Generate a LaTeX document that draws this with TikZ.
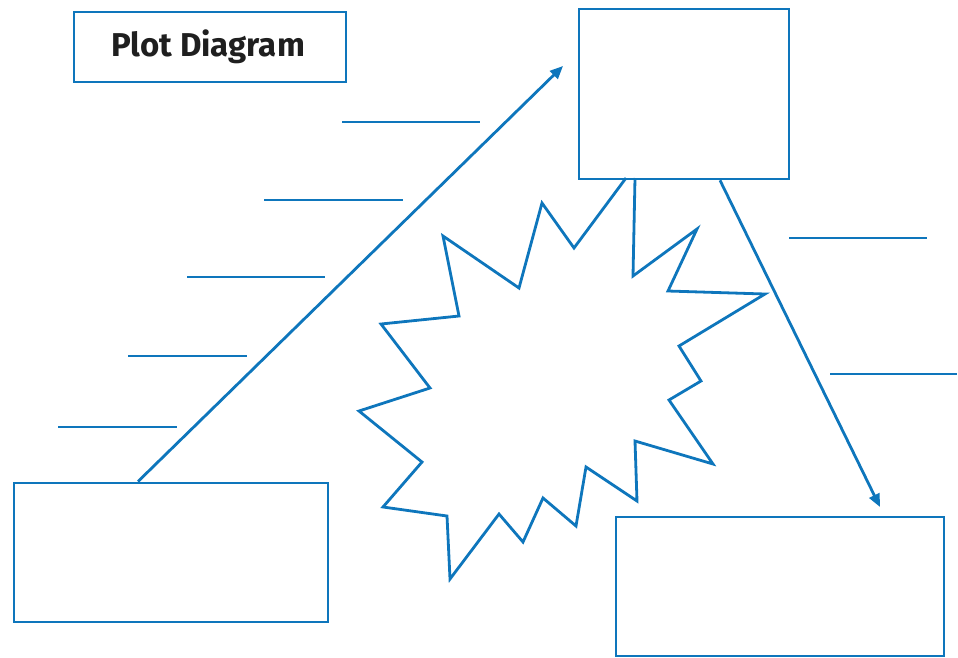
\documentclass[tikz,border=0pt]{standalone}
\usepackage{fontspec}
\newfontfamily\titlefont{Fira Sans}
\usetikzlibrary{arrows.meta}
\definecolor{plotblue}{HTML}{0E76BC}
\begin{document}
\begin{tikzpicture}[x=1pt,y=-1pt,
  line/.style={draw=plotblue,line width=2.8pt},
  box/.style={draw=plotblue,line width=2.8pt,rectangle,anchor=north west,inner sep=0pt},
  blank/.style={draw=plotblue,line width=2.8pt},
  arr/.style={draw=plotblue,line width=2.8pt,-{Triangle[length=13pt,width=11pt]}}]
\useasboundingbox (0,0) rectangle (958,657);
% boxes
\node[box,minimum width=272pt,minimum height=70pt] (title) at (72.5,10.5) {};
\node[font=\titlefont\bfseries\fontsize{33}{38}\selectfont,text=black!88] (titletext) at (208,47) {Plot Diagram};
\node[box,minimum width=210pt,minimum height=170pt] (climax) at (577.5,7.5) {};
\node[box,minimum width=314pt,minimum height=139pt] (expo) at (12.5,481.5) {};
\node[box,minimum width=328pt,minimum height=139pt] (resol) at (614.5,515.5) {};
% free arrow ends
\coordinate (risetip) at (563,66);
\coordinate (falltip) at (880,507);
% arrows
\draw[arr] ([xshift=125.5pt]expo.north west) -- (risetip);
\draw[arr] ([xshift=142.5pt]climax.south west) -- (falltip);
% writing lines
\draw[blank] (342,122) -- (480,122);
\draw[blank] (264,200) -- (403,200);
\draw[blank] (187,277) -- (325,277);
\draw[blank] (128,356) -- (247,356);
\draw[blank] (58,427) -- (177,427);
\draw[blank] (789,238) -- (927,238);
\draw[blank] (830,374) -- (957,374);
% starburst
\draw[line,line join=miter] (626,178) -- (574,248) -- (542,203) -- (519,288) -- (443,236)
  -- (459,316) -- (381,324) -- (430,388) -- (359,411) -- (422,462) -- (383,507)
  -- (447,516) -- (450,579) -- (499,514) -- (523,542) -- (543,498) -- (576,526)
  -- (586,467) -- (637,501) -- (635,441) -- (713,464) -- (669,400) -- (701,381)
  -- (679,346) -- (765,294) -- (668,291) -- (697,229) -- (633,276) -- (635,178);
\end{tikzpicture}
\end{document}
